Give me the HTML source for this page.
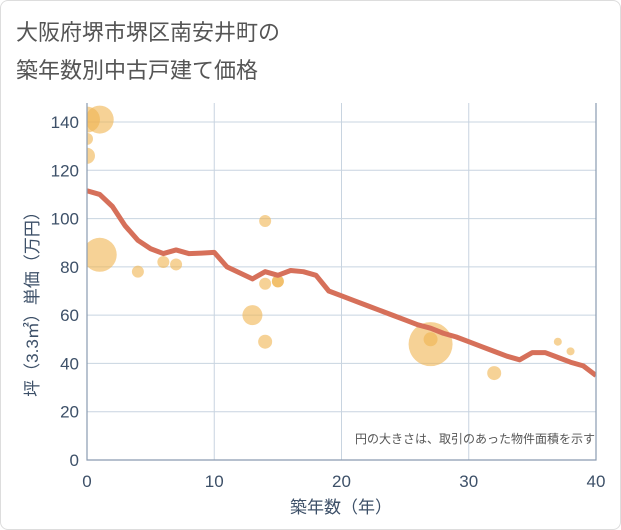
<!DOCTYPE html>
<html><head><meta charset="utf-8"><style>
body{margin:0;background:#fff;font-family:"Liberation Sans","Noto Sans CJK JP",sans-serif;}
.frame{position:absolute;left:0;top:0;width:619px;height:528px;border:1px solid #ddd;border-radius:8px;}
</style></head><body>
<div class="frame"></div>
<svg width="621" height="530" style="position:absolute;left:0;top:0">
<defs><clipPath id="plotclip"><rect x="87" y="103" width="509" height="357"/></clipPath></defs>
<text x="16" y="40" font-size="22" fill="#555" font-family="Liberation Sans,Noto Sans CJK JP,sans-serif">大阪府堺市堺区南安井町の</text>
<text x="16" y="78" font-size="22" fill="#555" font-family="Liberation Sans,Noto Sans CJK JP,sans-serif">築年数別中古戸建て価格</text>
<g id="grid"></g><g id="bubbles" clip-path="url(#plotclip)"></g><g id="line" clip-path="url(#plotclip)"></g><g id="axes"></g>
<text x="595" y="443" font-size="12" fill="#555" text-anchor="end" font-family="Liberation Sans,Noto Sans CJK JP,sans-serif">円の大きさは、取引のあった物件面積を示す</text>
<text x="341" y="513" font-size="17" fill="#3d5068" text-anchor="middle" font-family="Liberation Sans,Noto Sans CJK JP,sans-serif">築年数（年）</text>
<text transform="translate(38,300) rotate(-90)" font-size="17" fill="#3d5068" text-anchor="middle" font-family="Liberation Sans,Noto Sans CJK JP,sans-serif">坪（3.3㎡）単価（万円）</text>
</svg>
<script>
const xTicks=[0,10,20,30,40];
const yTicks=[0,20,40,60,80,100,120,140];
const lineX=[0,1,2,3,4,5,6,7,8,9,10,11,12,13,14,15,16,17,18,19,20,21,22,23,24,25,26,27,28,29,30,31,32,33,34,35,36,37,38,39,40];
const lineY=[111.5,110,105,97,91,87.5,85.5,87,85.5,85.7,86,80,77.5,75,78,76.5,78.5,78,76.5,70,68,66,64,62,60,58,56,54.6,52.5,51,49,47,45,43,41.5,44.5,44.5,42.5,40.5,39,35];
const bubX=[0,1,0,0,1,4,6,7,14,14,15,15,13,14,27,27,32,37,38];
const bubY=[141,141,133,126,85,78,82,81,99,73,74,74,60,49,48,50,36,49,45];
const bubR=[13,14,6,8,17,6,6,6,6,6,6,6,10,7,22,7,7,4,4];
const L=87,R=596,T=103,B=460;
const xs=v=>L+(v-0)/40*(R-L);
const ys=v=>B-v/140*(B-122);
const NS="http://www.w3.org/2000/svg";
function mk(t,a,p){const e=document.createElementNS(NS,t);for(const k in a)e.setAttribute(k,a[k]);document.getElementById(p).appendChild(e);return e;}
xTicks.forEach(v=>{
const g=mk('line',{x1:xs(v),x2:xs(v),y1:T,y2:B,stroke:'#c8d4e0','stroke-width':1},'grid');


const t=mk('text',{x:xs(v),y:B+27,'font-size':17,fill:'#3d5068','text-anchor':'middle'},'axes');t.textContent=v;


});
yTicks.forEach(v=>{
const g=mk('line',{x1:L,x2:R,y1:ys(v),y2:ys(v),stroke:'#c8d4e0','stroke-width':1},'grid');


const t=mk('text',{x:L-8,y:ys(v)+6,'font-size':17,fill:'#3d5068','text-anchor':'end'},'axes');t.textContent=v;


});
const ax=mk('path',{d:`M${L},${T}V${B}H${R}V${T}`,fill:'none',stroke:'#8a9bb0','stroke-width':1.2},'axes');


bubX.forEach((x,i)=>{
const c=mk('circle',{cx:xs(x),cy:ys(bubY[i]),r:bubR[i],fill:'#f0b450','fill-opacity':0.6},'bubbles');


});
const p=mk('polyline',{points:lineX.map((x,i)=>xs(x)+','+ys(lineY[i])).join(' '),fill:'none',stroke:'#d6705a','stroke-width':5,'stroke-linejoin':'round'},'line');


</script>
</body></html>
